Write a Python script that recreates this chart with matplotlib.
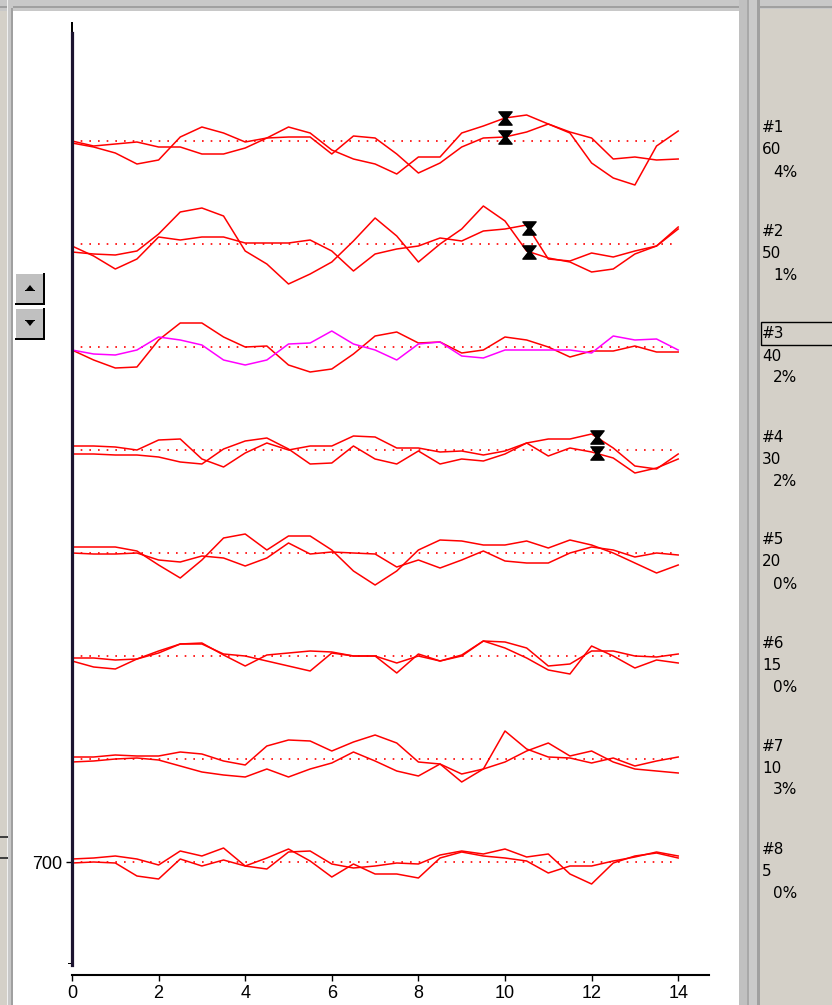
import matplotlib
matplotlib.use('Agg')
import matplotlib.pyplot as plt
import numpy as np
from matplotlib.patches import Rectangle, Polygon
from matplotlib.path import Path

plt.rcParams['font.family'] = ['Liberation Sans', 'DejaVu Sans']

# Розміри картинки в пікселях
W, H = 832, 1005

# Моменти часу (крок 0.5)
t = np.linspace(0, 14, 29)

# Канали: по дві криві на канал (відхилення від базової лінії)
ch1_a = [-2, -6, -12, -23, -19, 4, 14, 8, -1, 3, 14, 8, -9, -18, -23, -33, -16, -16, 8, 15, 23, 26, 17, 8, -22, -37, -44, -5, 10]
ch1_b = [0, -5, -3, -1, -6, -6, -13, -13, -7, 3, 4, 4, -13, 5, 3, -13, -32, -22, -6, 3, 4, 9, 17, 9, 3, -18, -16, -19, -18]
ch2_a = [-8, -10, -11, -7, 10, 32, 36, 28, -7, -20, -40, -30, -18, 3, 26, 8, -18, 0, 15, 38, 23, -7, -14, -18, -28, -25, -10, -2, 17]
ch2_b = [-2, -12, -25, -15, 7, 4, 7, 7, 1, 1, 1, 4, -7, -27, -10, -5, -2, 6, 3, 13, 15, 19, -15, -17, -9, -13, -7, -2, 15]
ch3_a = [-3, -13, -21, -20, 7, 24, 24, 10, 0, 1, -18, -25, -22, -7, 11, 15, 4, 5, -6, -3, 10, 7, 0, -10, -4, -4, 1, -5, -5]
ch3_b = [-3, -7, -8, -3, 10, 7, 2, -13, -18, -13, 3, 4, 16, 3, -3, -13, 3, 5, -9, -11, -3, -3, -3, -3, -6, 11, 7, 8, -3]
ch4_a = [4, 4, 3, 0, 10, 11, -9, -17, -3, 7, 0, 4, 4, 14, 13, 2, 2, -2, -1, -5, -1, 7, 11, 11, 16, 2, -16, -19, -4]
ch4_b = [-4, -4, -5, -5, -7, -12, -14, 1, 9, 12, 1, -14, -13, 4, -9, -14, -1, -14, -9, -11, -4, 7, -6, 2, -2, -8, -23, -18, -9]
ch5_a = [6, 6, 6, 2, -12, -25, -7, 15, 19, 3, 17, 17, 3, -18, -32, -18, 3, 13, 12, 8, 8, 12, 5, 13, 8, 0, -10, -20, -12]
ch5_b = [0, -1, -1, 0, -7, -9, -3, -5, -13, -5, 10, -1, 1, 0, -1, -14, -7, -15, -7, 2, -8, -10, -10, 0, 6, 3, -4, 0, -2]
ch6_a = [-2, -2, -4, -3, 5, 12, 13, 1, -10, 1, 3, 5, 4, 0, 0, -17, 2, -5, 0, 15, 8, -2, -14, -18, 10, 0, -12, -4, -7]
ch6_b = [-5, -11, -13, -3, 3, 12, 12, 2, 0, -5, -10, -15, 3, 0, 0, -7, 0, -5, 1, 15, 14, 8, -10, -8, 5, 5, 0, -1, 2]
ch7_a = [2, 2, 4, 3, 3, 7, 5, -2, -6, 13, 19, 18, 8, 17, 24, 16, -3, -5, -15, -10, 28, 10, 2, 1, -4, 1, -7, -2, 2]
ch7_b = [-3, -2, 0, 1, -1, -7, -13, -16, -18, -10, -18, -10, -4, 7, -2, -12, -17, -5, -23, -10, -3, 8, 16, 3, 8, -3, -10, -12, -14]
ch8_a = [3, 4, 6, 3, -3, 11, 6, 14, -4, -7, 10, 11, -2, -6, -4, -1, -2, 7, 11, 8, 13, 5, 8, -12, -22, -1, 6, 9, 4]
ch8_b = [-1, 0, -1, -14, -17, 3, -4, 2, -4, 4, 13, 1, -15, -2, -12, -12, -16, 4, 10, 6, 4, 1, -11, -4, -4, 1, 5, 10, 6]

traces = [(ch1_a, ch1_b), (ch2_a, ch2_b), (ch3_a, ch3_b), (ch4_a, ch4_b),
          (ch5_a, ch5_b), (ch6_a, ch6_b), (ch7_a, ch7_b), (ch8_a, ch8_b)]

# Підписи каналів справа
ch_names = ['#1', '#2', '#3', '#4', '#5', '#6', '#7', '#8']
ch_values = ['60', '50', '40', '30', '20', '15', '10', '5']
ch_pct = ['4%', '1%', '2%', '2%', '0%', '0%', '3%', '0%']

# Курсори (маркери) на каналах: номер каналу -> час
cursors = {0: 10.0, 1: 10.55, 3: 12.12}


fig = plt.figure(figsize=(W / 100, H / 100), dpi=100)
fig.patch.set_facecolor('#d4d0c8')


def box(x0, y0, x1, y1, color):
    fig.patches.append(Rectangle((x0 / W, 1 - y1 / H), (x1 - x0) / W, (y1 - y0) / H,
                                 transform=fig.transFigure, facecolor=color,
                                 edgecolor='none', zorder=-10))


def poly(pts, color):
    fig.patches.append(Polygon([(x / W, 1 - y / H) for x, y in pts], closed=True,
                               transform=fig.transFigure, facecolor=color,
                               edgecolor='none', zorder=-5))


# Рамки вікна
box(0, 0, 760, 11, '#c8c8c8')
box(0, 6, 760, 8, '#a0a0a0')
box(8, 0, 13, H, '#c8c8c8')
box(7.5, 0, 8.5, H, '#f0f0f0')
box(11, 8, 13, H, '#a0a0a0')
box(13, 11, 739, H, 'white')
box(739, 0, 760, H, '#c0c0c0')
box(747, 0, 749, H, '#a8a8a8')
box(749, 0, 757, H, '#cacaca')
box(757, 0, 760, H, '#a0a0a0')
box(760, 0, W, 9, '#c8c8c8')
box(760, 6, W, 8, '#a0a0a0')
box(0, 836, 8, 838, '#404040')
box(0, 857, 8, 859, '#404040')

# Кнопки прокрутки
for (y0, up) in [(273, True), (308, False)]:
    x0, x1, y1 = 15, 45, y0 + 32
    box(x0, y0, x1, y1, 'black')
    box(x0, y0, x1 - 2, y1 - 2, 'white')
    box(x0 + 1, y0 + 1, x1 - 2, y1 - 2, '#c0c0c0')
    cy = y0 + 15
    if up:
        poly([(26, cy + 2), (34, cy + 2), (30, cy - 3)], 'black')
        box(25, cy + 2, 35, cy + 3, 'black')
    else:
        poly([(26, cy - 2), (34, cy - 2), (30, cy + 3)], 'black')
        box(25, cy - 3, 35, cy - 2, 'black')

# Верхній тонкий кінець осі Y і засічка внизу
box(71, 22, 72.5, 34, 'black')
box(68, 963, 72, 964, 'black')

# Основна область графіка
ax = fig.add_axes([72 / W, 1 - 975 / H, (708.5 - 72) / W, (975 - 33) / H])
ax.patch.set_visible(False)
ax.set_xlim(0, 14.7)
ax.set_ylim(0, 942)

# Маркер у формі пісочного годинника
hourglass = Path([(-1, 1), (1, 1), (0.2, 0), (1, -1), (-1, -1), (-0.2, 0), (-1, 1)],
                 [Path.MOVETO] + [Path.LINETO] * 5 + [Path.CLOSEPOLY])

for k, (tr_a, tr_b) in enumerate(traces):
    base = 113 + 103 * (7 - k)
    ax.plot([0, 14], [base, base], color='red', lw=1.2, linestyle=(0, (1, 4.2)))
    color_b = '#ff00ff' if k == 2 else 'red'
    ya = base + np.array(tr_a)
    yb = base + np.array(tr_b)
    ax.plot(t, ya, color='red', lw=1.1)
    ax.plot(t, yb, color=color_b, lw=1.1)
    if k in cursors:
        cx = cursors[k]
        ax.plot([cx, cx], [np.interp(cx, t, ya), np.interp(cx, t, yb)], linestyle='none',
                marker=hourglass, markersize=9.5, color='black')

    # Підписи каналу справа
    bp = 975 - base
    fig.text(762 / W, 1 - (bp - 13) / H, ch_names[k], fontsize=11, family='DejaVu Sans',
             va='center', ha='left')
    fig.text(762 / W, 1 - (bp + 9) / H, ch_values[k], fontsize=11, family='DejaVu Sans',
             va='center', ha='left')
    fig.text(773 / W, 1 - (bp + 31) / H, ch_pct[k], fontsize=11, family='DejaVu Sans',
             va='center', ha='left')
    if k == 2:
        fig.patches.append(Rectangle((761 / W, 1 - (bp - 2) / H), 80 / W, 23 / H,
                                     transform=fig.transFigure, facecolor='none',
                                     edgecolor='black', lw=1.0, zorder=2))

# Осі
ax.spines['top'].set_visible(False)
ax.spines['right'].set_visible(False)
ax.spines['left'].set_color('#1c1430')
ax.spines['left'].set_linewidth(2.3)
ax.spines['left'].set_bounds(10, 942)
ax.spines['bottom'].set_linewidth(1.5)
ax.spines['bottom'].set_bounds(0, 14.7)

ax.set_xticks(range(0, 15, 2))
ax.set_yticks([113])
ax.set_yticklabels(['700'])
ax.tick_params(direction='out', length=4, width=1, labelsize=13, pad=3, color='black')

fig.savefig('out.png', dpi=100)
